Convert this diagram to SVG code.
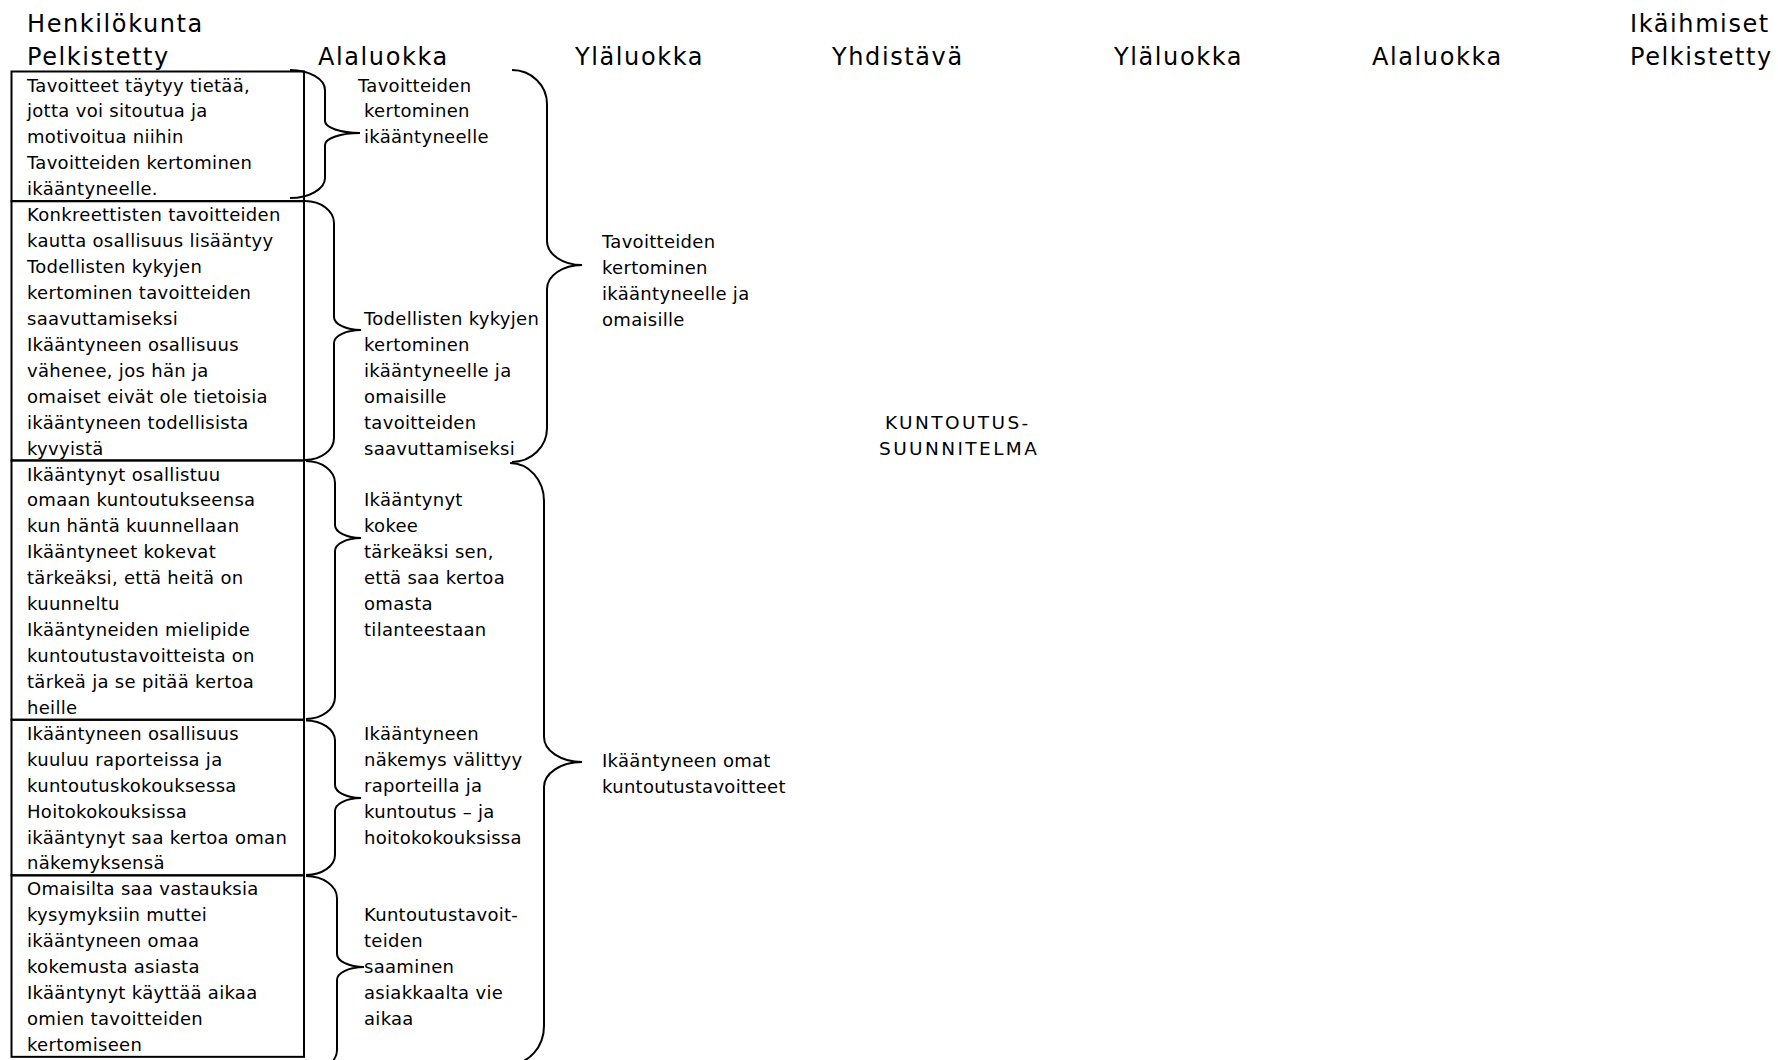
<svg xmlns="http://www.w3.org/2000/svg" width="1778" height="1060" viewBox="0 0 1778 1060">
<style>
.hdr{font-family:"DejaVu Sans",Verdana,sans-serif;font-size:24px;letter-spacing:1.6px;fill:#000}
.txt{font-family:"DejaVu Sans",Verdana,sans-serif;font-size:18px;letter-spacing:0.3px;fill:#000}
.caps{font-family:"DejaVu Sans",Verdana,sans-serif;font-size:18.5px;letter-spacing:2.4px;fill:#000}
.box{fill:none;stroke:#000;stroke-width:2}
.brace{fill:none;stroke:#000;stroke-width:2}
</style>
<rect width="1778" height="1060" fill="#fff"/>
<g id="headers">
<text class="hdr" x="27" y="32">Henkilökunta</text>
<text class="hdr" x="27" y="64.5">Pelkistetty</text>
<text class="hdr" x="318" y="64.5">Alaluokka</text>
<text class="hdr" x="575" y="64.5">Yläluokka</text>
<text class="hdr" x="832" y="64.5">Yhdistävä</text>
<text class="hdr" x="1114" y="64.5">Yläluokka</text>
<text class="hdr" x="1372" y="64.5">Alaluokka</text>
<text class="hdr" x="1630" y="32">Ikäihmiset</text>
<text class="hdr" x="1630" y="64.5">Pelkistetty</text>
</g>
<g id="box1">
<rect class="box" x="11.5" y="71.5" width="292.5" height="129.65"/>
<text class="txt"><tspan x="27" y="91.5">Tavoitteet täytyy tietää,</tspan><tspan x="27" y="117.4">jotta voi sitoutua ja</tspan><tspan x="27" y="143.4">motivoitua niihin</tspan><tspan x="27" y="169.3">Tavoitteiden kertominen</tspan><tspan x="27" y="195.2">ikääntyneelle.</tspan></text>
</g>
<g id="box2">
<rect class="box" x="11.5" y="201.15" width="292.5" height="259.3"/>
<text class="txt"><tspan x="27" y="221.2">Konkreettisten tavoitteiden</tspan><tspan x="27" y="247.1">kautta osallisuus lisääntyy</tspan><tspan x="27" y="273">Todellisten kykyjen</tspan><tspan x="27" y="298.9">kertominen tavoitteiden</tspan><tspan x="27" y="324.9">saavuttamiseksi</tspan><tspan x="27" y="350.8">Ikääntyneen osallisuus</tspan><tspan x="27" y="376.7">vähenee, jos hän ja</tspan><tspan x="27" y="402.7">omaiset eivät ole tietoisia</tspan><tspan x="27" y="428.6">ikääntyneen todellisista</tspan><tspan x="27" y="454.5">kyvyistä</tspan></text>
</g>
<g id="box3">
<rect class="box" x="11.5" y="460.45" width="292.5" height="259.3"/>
<text class="txt"><tspan x="27" y="480.5">Ikääntynyt osallistuu</tspan><tspan x="27" y="506.4">omaan kuntoutukseensa</tspan><tspan x="27" y="532.3">kun häntä kuunnellaan</tspan><tspan x="27" y="558.2">Ikääntyneet kokevat</tspan><tspan x="27" y="584.2">tärkeäksi, että heitä on</tspan><tspan x="27" y="610.1">kuunneltu</tspan><tspan x="27" y="636">Ikääntyneiden mielipide</tspan><tspan x="27" y="662">kuntoutustavoitteista on</tspan><tspan x="27" y="687.9">tärkeä ja se pitää kertoa</tspan><tspan x="27" y="713.8">heille</tspan></text>
</g>
<g id="box4">
<rect class="box" x="11.5" y="719.75" width="292.5" height="155.58"/>
<text class="txt"><tspan x="27" y="739.8">Ikääntyneen osallisuus</tspan><tspan x="27" y="765.7">kuuluu raporteissa ja</tspan><tspan x="27" y="791.6">kuntoutuskokouksessa</tspan><tspan x="27" y="817.5">Hoitokokouksissa</tspan><tspan x="27" y="843.5">ikääntynyt saa kertoa oman</tspan><tspan x="27" y="869.4">näkemyksensä</tspan></text>
</g>
<g id="box5">
<rect class="box" x="11.5" y="875.33" width="292.5" height="181.51"/>
<text class="txt"><tspan x="27" y="895.3">Omaisilta saa vastauksia</tspan><tspan x="27" y="921.3">kysymyksiin muttei</tspan><tspan x="27" y="947.2">ikääntyneen omaa</tspan><tspan x="27" y="973.1">kokemusta asiasta</tspan><tspan x="27" y="999.1">Ikääntynyt käyttää aikaa</tspan><tspan x="27" y="1025">omien tavoitteiden</tspan><tspan x="27" y="1050.9">kertomiseen</tspan></text>
</g>
<g id="ala1">
<text class="txt"><tspan x="358" y="91.5">Tavoitteiden</tspan><tspan x="364" y="117.4">kertominen</tspan><tspan x="364" y="143.4">ikääntyneelle</tspan></text>
</g>
<g id="ala2">
<text class="txt"><tspan x="364" y="324.9">Todellisten kykyjen</tspan><tspan x="364" y="350.8">kertominen</tspan><tspan x="364" y="376.7">ikääntyneelle ja</tspan><tspan x="364" y="402.7">omaisille</tspan><tspan x="364" y="428.6">tavoitteiden</tspan><tspan x="364" y="454.5">saavuttamiseksi</tspan></text>
</g>
<g id="ala3">
<text class="txt"><tspan x="364" y="506.4">Ikääntynyt</tspan><tspan x="364" y="532.3">kokee</tspan><tspan x="364" y="558.2">tärkeäksi sen,</tspan><tspan x="364" y="584.2">että saa kertoa</tspan><tspan x="364" y="610.1">omasta</tspan><tspan x="364" y="636">tilanteestaan</tspan></text>
</g>
<g id="ala4">
<text class="txt"><tspan x="364" y="739.8">Ikääntyneen</tspan><tspan x="364" y="765.7">näkemys välittyy</tspan><tspan x="364" y="791.6">raporteilla ja</tspan><tspan x="364" y="817.5">kuntoutus – ja</tspan><tspan x="364" y="843.5">hoitokokouksissa</tspan></text>
</g>
<g id="ala5">
<text class="txt"><tspan x="364" y="921.3">Kuntoutustavoit-</tspan><tspan x="364" y="947.2">teiden</tspan><tspan x="364" y="973.1">saaminen</tspan><tspan x="364" y="999.1">asiakkaalta vie</tspan><tspan x="364" y="1025">aikaa</tspan></text>
</g>
<g id="yla1">
<text class="txt"><tspan x="602" y="248">Tavoitteiden</tspan><tspan x="602" y="274">kertominen</tspan><tspan x="602" y="300">ikääntyneelle ja</tspan><tspan x="602" y="326">omaisille</tspan></text>
</g>
<g id="yla2">
<text class="txt"><tspan x="602" y="766.5">Ikääntyneen omat</tspan><tspan x="602" y="792.5">kuntoutustavoitteet</tspan></text>
</g>
<g id="yhdistava">
<text class="caps"><tspan x="885" y="428.6">KUNTOUTUS-</tspan><tspan x="879" y="454.5">SUUNNITELMA</tspan></text>
</g>
<g id="connectors">
<path class="brace" d="M290,70 C309.3,70 325,79 325,90 L325,121 C325,127.6 340.7,133 360,133 C340.7,133 325,138.4 325,145 L325,178 C325,189 309.3,198 290,198"/>
<path class="brace" d="M305,201 C321,201 334,210.9 334,223 L334,317 C334,324.2 346.1,330 361,330 C346.1,330 334,335.8 334,343 L334,438 C334,450.1 321,460 305,460"/>
<path class="brace" d="M306,461 C322,461 335,470.9 335,483 L335,525 C335,532.2 346.6,538 361,538 C346.6,538 335,543.8 335,551 L335,697 C335,709.1 322,719 306,719"/>
<path class="brace" d="M306,720.5 C322,720.5 335,729.5 335,740.5 L335,785 C335,792.2 346.6,798 361,798 C346.6,798 335,803.8 335,811 L335,855 C335,866 322,875 306,875"/>
<path class="brace" d="M306,876 C323.1,876 337,885.9 337,898 L337,954 C337,961.2 349.1,967 364,967 C349.1,967 337,972.8 337,980 L337,1050 C337,1062.1 323.1,1072 306,1072"/>
<path class="brace" d="M512,70 C531.3,70 547,85.2 547,104 L547,241 C547,254.2 562.7,265 582,265 C562.7,265 547,275.8 547,289 L547,428 C547,446.8 531.3,462 512,462"/>
<path class="brace" d="M510,463 C528.8,463 544,480 544,501 L544,737 C544,750.8 561,762 582,762 C561,762 544,773.2 544,787 L544,1026 C544,1047 528.8,1064 510,1064"/>
</g>
</svg>
